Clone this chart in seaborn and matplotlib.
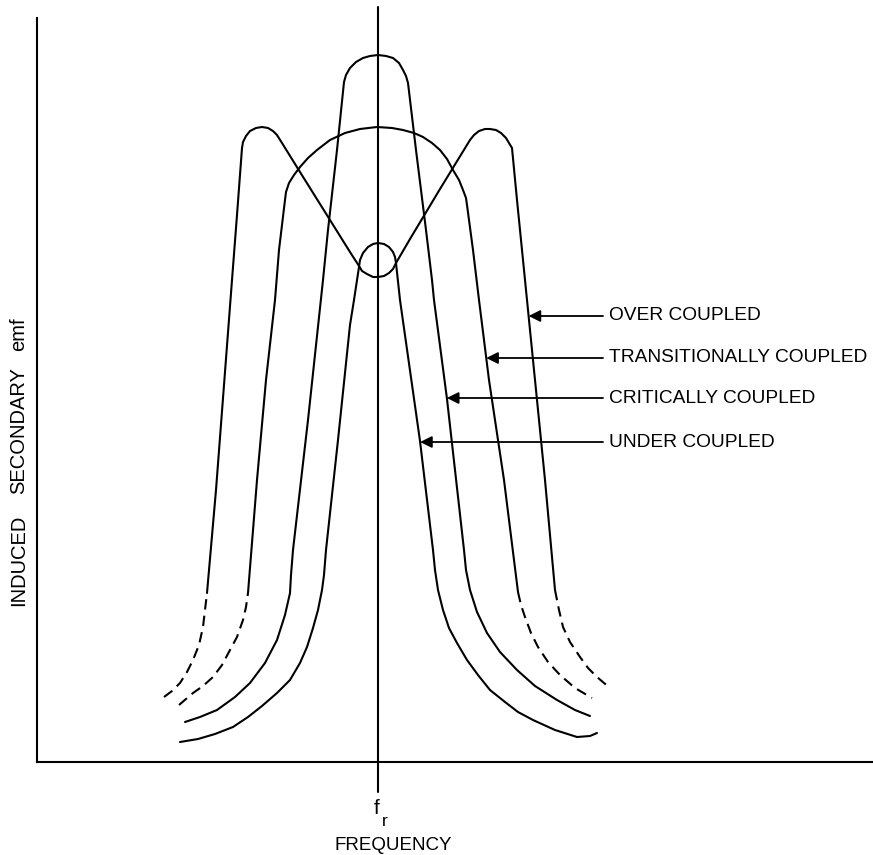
import numpy as np
import matplotlib
matplotlib.use("Agg")
import matplotlib.pyplot as plt
import seaborn as sns

# frequency offset from f_r and induced emf (arbitrary units)
over_ltail_f = [-214, -206, -198, -191, -185, -179, -175, -173, -171]
over_ltail_e = [65, 71, 79, 90, 102, 117, 135, 152, 169]
over_f = [-171, -162, -154, -146, -141, -136, -135, -132, -128, -122, -116, -110, -105, -101, -96,
          -78, -48, -28, -19, -16, -11, -5, 0, 6, 11, 15, 18, 32, 62,
          92, 96, 101, 107, 112, 118, 123, 128, 131, 134, 139, 144, 149, 157, 167, 177]
over_e = [169, 272, 377, 482, 547, 614, 620, 626, 631, 634, 635, 634, 631, 627, 619,
          590, 542, 510, 496, 491, 488, 485, 485, 486, 489, 493, 499, 523, 573,
          622, 627, 631, 633, 633, 632, 629, 624, 619, 614, 562, 512, 462, 382, 282, 172]
over_rtail_f = [177, 181, 185, 192, 202, 210, 219, 226, 232]
over_rtail_e = [172, 152, 135, 120, 105, 94, 85, 79, 74]

trans_ltail_f = [-199, -185, -175, -165, -156, -148, -141, -135, -132, -130]
trans_ltail_e = [57, 69, 76, 85, 97, 112, 125, 142, 155, 169]
trans_f = [-130, -121, -112, -103, -99, -93, -92, -89, -84, -78, -70, -61, -48, -33, -18, -1,
           14, 25, 36, 45, 54, 62, 69, 75, 81, 85, 88, 89, 95, 101, 111, 126, 140]
trans_e = [169, 282, 382, 462, 512, 562, 570, 579, 587, 595, 604, 612, 622, 629, 633, 635,
           634, 632, 629, 625, 619, 612, 603, 592, 582, 572, 564, 557, 512, 462, 382, 282, 170]
trans_rtail_f = [140, 143, 147, 153, 160, 170, 182, 197, 214]
trans_rtail_e = [170, 157, 145, 129, 115, 100, 87, 74, 64]

crit_f = [-193, -178, -161, -143, -128, -113, -101, -93, -88, -87, -85, -70, -55, -50, -41,
          -34, -32, -28, -22, -15, -8, 0, 8, 15, 21, 25, 28, 30,
          38, 48, 54, 56, 69, 86, 88, 92, 99, 109, 122, 139, 157, 179, 197, 212]
crit_e = [40, 45, 52, 65, 79, 99, 122, 147, 169, 187, 212, 342, 482, 532, 612,
          680, 687, 694, 700, 704, 706, 707, 706, 704, 699, 692, 686, 679,
          612, 532, 482, 462, 363, 212, 192, 172, 150, 129, 110, 92, 76, 62, 52, 46]

under_f = [-198, -180, -163, -145, -130, -116, -101, -88, -78, -71, -65, -60, -56, -54, -52,
           -40, -28, -24, -19, -18, -15, -10, -5, 0, 6, 11, 15, 17, 18,
           22, 42, 55, 57, 60, 65, 71, 79, 89, 100, 112, 127, 140, 155, 177, 199, 212, 219]
under_e = [20, 23, 28, 35, 45, 56, 69, 82, 99, 115, 134, 152, 172, 187, 212,
           322, 437, 462, 495, 502, 509, 515, 518, 519, 518, 515, 510, 505, 499,
           462, 321, 212, 192, 172, 152, 134, 119, 102, 87, 72, 60, 50, 42, 32, 25, 26, 29]

labels = ["OVER COUPLED", "TRANSITIONALLY COUPLED", "CRITICALLY COUPLED", "UNDER COUPLED"]
label_levels = [446, 404, 364, 320]

sns.set_style("white")
plt.rcParams["font.family"] = ["Liberation Sans", "DejaVu Sans"]
plt.rcParams["text.color"] = "black"

fig = plt.figure(figsize=(8.73, 8.55), dpi=100)
ax = fig.add_axes([37 / 873, 93 / 855, 836 / 873, 755 / 855])

lw = 1.5
dash = (0, (5, 3))
solid = [(over_f, over_e), (trans_f, trans_e), (crit_f, crit_e), (under_f, under_e)]
for f, e in solid:
    sns.lineplot(x=f, y=e, sort=False, estimator=None, color="black", lw=lw, ax=ax)
for f, e in [(over_ltail_f, over_ltail_e), (over_rtail_f, over_rtail_e),
             (trans_ltail_f, trans_ltail_e), (trans_rtail_f, trans_rtail_e)]:
    sns.lineplot(x=f, y=e, sort=False, estimator=None, color="black", lw=lw,
                 linestyle=dash, ax=ax)

ax.set_xlim(-341, 495)
ax.set_ylim(0, 755)
ax.set_xticks([])
ax.set_yticks([])
ax.set_xlabel("")
ax.set_ylabel("")
for s in ["top", "right"]:
    ax.spines[s].set_visible(False)
for s in ["left", "bottom"]:
    ax.spines[s].set_linewidth(1.5)
    ax.spines[s].set_color("black")
ax.spines["left"].set_bounds(0, 744)

# resonant frequency marker
ax.axvline(0, ymin=-30 / 755, ymax=1, color="black", lw=1.5, clip_on=False)


def right_side_at(f, e, level):
    f = np.asarray(f)
    e = np.asarray(e)
    pos = np.where(f > 0)[0]
    start = pos[np.argmax(e[pos])]
    fs, es = f[start:], e[start:]
    return np.interp(level, es[::-1], fs[::-1])


for lab, lev, (f, e) in zip(labels, label_levels, solid):
    tip = right_side_at(f, e, lev)
    ax.annotate("", xy=(tip, lev), xytext=(225, lev),
                arrowprops=dict(arrowstyle="-|>,head_length=0.7,head_width=0.35",
                                color="black", lw=1.3, shrinkA=0, shrinkB=0))
    ax.text(231, lev, lab, fontsize=13.8, va="center", ha="left")

ax.text(-1, -46, "f", fontsize=15, ha="center", va="center", clip_on=False)
ax.text(7, -59, "r", fontsize=12.5, ha="center", va="center", clip_on=False)
ax.text(15, -83, "FREQUENCY", fontsize=13.5, ha="center", va="center", clip_on=False)

# y label, word by word as spaced on the original
for word, pos in [("INDUCED", 202), ("SECONDARY", 331), ("emf", 428)]:
    ax.text(-359, pos, word, fontsize=14.5, rotation=90,
            ha="center", va="center", clip_on=False)

fig.savefig("out.png", dpi=100)
